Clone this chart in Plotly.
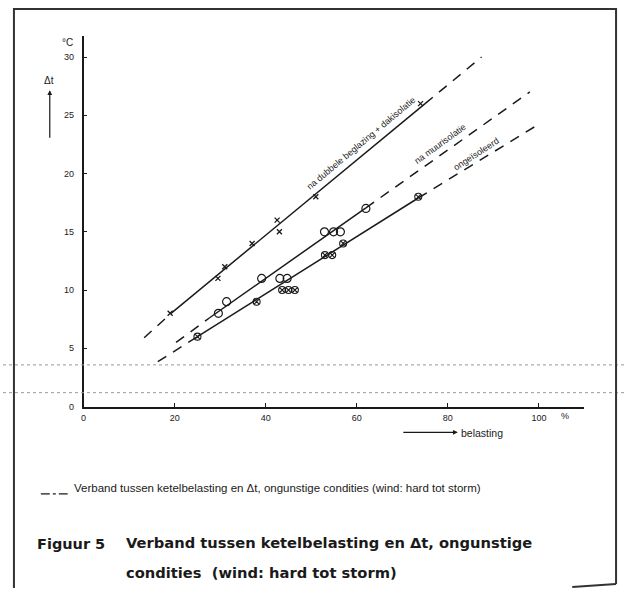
import plotly.graph_objects as go

# ---- data ----
x_ticks = [0, 20, 40, 60, 80, 100]
y_ticks = [0, 5, 10, 15, 20, 25, 30]

# na dubbele beglazing + dakisolatie (small crosses)
dak_x = [19, 29.5, 31, 37, 42.5, 43, 51, 74]
dak_y = [8, 11, 12, 14, 16, 15, 18, 26]
dak_solid_x = [19.2, 75.0]
dak_solid_y = [8.0, 26.0]
dak_dash_lo_x = [13.3, 19.2]
dak_dash_lo_y = [5.9, 8.0]
dak_dash_hi_x = [75.0, 87.4]
dak_dash_hi_y = [26.0, 30.0]

# na muurisolatie (open circles)
muur_x = [29.6, 31.4, 39.1, 43.1, 44.7, 52.9, 54.9, 56.4, 62]
muur_y = [8, 9, 11, 11, 11, 15, 15, 15, 17]
muur_solid_x = [27.6, 62.0]
muur_solid_y = [7.6, 17.05]
muur_dash_lo_x = [20.3, 27.6]
muur_dash_lo_y = [5.5, 7.6]
muur_dash_hi_x = [62.0, 98.0]
muur_dash_hi_y = [17.05, 27.0]

# ongeisoleerd (hatched circles)
onge_x = [25, 38, 43.6, 45, 46.4, 53, 54.6, 57, 73.5]
onge_y = [6, 9, 10, 10, 10, 13, 13, 14, 18]
onge_solid_x = [25.0, 73.5]
onge_solid_y = [6.0, 17.9]
onge_dash_lo_x = [16.3, 25.0]
onge_dash_lo_y = [3.85, 6.0]
onge_dash_hi_x = [73.5, 99.0]
onge_dash_hi_y = [17.9, 24.0]

INK = "#1a1a1a"
FONT = "Liberation Sans"
CAPFONT = "DejaVu Sans"
DASH = "10px,8px"

fig = go.Figure()

def seg(x, y, dash):
    fig.add_trace(go.Scatter(x=x, y=y, mode="lines",
                             line=dict(color=INK, width=1.5, dash=dash),
                             hoverinfo="skip", showlegend=False))

for sx, sy in [(dak_solid_x, dak_solid_y), (muur_solid_x, muur_solid_y), (onge_solid_x, onge_solid_y)]:
    seg(sx, sy, "solid")
for sx, sy in [(dak_dash_lo_x, dak_dash_lo_y), (dak_dash_hi_x, dak_dash_hi_y),
               (muur_dash_lo_x, muur_dash_lo_y), (muur_dash_hi_x, muur_dash_hi_y),
               (onge_dash_lo_x, onge_dash_lo_y), (onge_dash_hi_x, onge_dash_hi_y)]:
    seg(sx, sy, DASH)

fig.add_trace(go.Scatter(x=dak_x, y=dak_y, mode="markers",
                         marker=dict(symbol="x-thin-open", size=5, color=INK, line=dict(width=1.3, color=INK)),
                         showlegend=False))
fig.add_trace(go.Scatter(x=muur_x, y=muur_y, mode="markers",
                         marker=dict(symbol="circle-open", size=8, color=INK, line=dict(width=1.2, color=INK)),
                         showlegend=False))
fig.add_trace(go.Scatter(x=onge_x, y=onge_y, mode="markers",
                         marker=dict(symbol="circle-x-open", size=7, color=INK, line=dict(width=1.1, color=INK)),
                         showlegend=False))

# page geometry (body margin removed, small empirical offset)
W, H = 627, 593
XOFF, YOFF = -1, 3
x0_px, px_per_x = 82 + XOFF, 4.575
y0_px, px_per_y = 407 + YOFF, 11.75
x_max, y_max = 110, 31.8

def px(x):  # reference pixel -> paper fraction
    return (x + XOFF) / W

def py(y):
    return 1 - (y + YOFF) / H

fig.update_layout(
    width=W, height=H,
    margin=dict(l=0, r=0, t=0, b=0),
    paper_bgcolor="white", plot_bgcolor="white",
    font=dict(family=FONT, color=INK, size=10),
    xaxis=dict(domain=[x0_px / W, (x0_px + x_max * px_per_x) / W], range=[0, x_max],
               tickvals=x_ticks, ticks="inside", ticklen=4, tickcolor=INK,
               showline=True, linecolor=INK, linewidth=1.5, showgrid=False, zeroline=False,
               tickfont=dict(size=9, family=FONT), ticklabelstandoff=2, fixedrange=True),
    yaxis=dict(domain=[(H - y0_px) / H, (H - y0_px + y_max * px_per_y) / H], range=[0, y_max],
               tickvals=y_ticks, ticks="inside", ticklen=4, tickcolor=INK,
               showline=True, linecolor=INK, linewidth=1.5, showgrid=False, zeroline=False,
               tickfont=dict(size=9, family=FONT), ticklabelstandoff=6, fixedrange=True),
)

def ptext(x, y, text, size=10, anchor="left", bold=False, family=FONT):
    fig.add_annotation(x=px(x), y=py(y), xref="paper", yref="paper", text=("<b>%s</b>" % text) if bold else text,
                       showarrow=False, xanchor=anchor, yanchor="middle", borderpad=0,
                       font=dict(size=size, family=family, color=INK))

# in-chart labels along the lines
fig.add_annotation(x=61.0, y=22.6, text="na dubbele beglazing + dakisolatie", showarrow=False,
                   textangle=-40, font=dict(size=9, family=FONT, color=INK))
fig.add_annotation(x=78.3, y=22.5, text="na muurisolatie", showarrow=False,
                   textangle=-36, font=dict(size=9, family=FONT, color=INK))
fig.add_annotation(x=86.2, y=21.7, text="ongeïsoleerd", showarrow=False,
                   textangle=-33, font=dict(size=9, family=FONT, color=INK))

# unit labels
ptext(66, 40, "°C", size=10, anchor="center")
ptext(566, 417, "%", size=9, anchor="center")

# delta-t arrow (vertical, pointing up)
fig.add_annotation(x=px(48), y=py(88), ax=0, ay=49, xref="paper", yref="paper",
                   text="", showarrow=True, arrowhead=2, arrowsize=0.8,
                   arrowwidth=1.2, arrowcolor=INK)
ptext(47, 78, "Δt", size=10, anchor="center")

# belasting arrow
fig.add_annotation(x=px(458), y=py(433), ax=-56, ay=0, xref="paper", yref="paper",
                   text="", showarrow=True, arrowhead=2, arrowsize=0.8,
                   arrowwidth=1.2, arrowcolor=INK)
ptext(460, 434, "belasting", size=10.5)

# note with dash-dot sample
fig.add_shape(type="line", xref="paper", yref="paper", x0=px(39), x1=px(66), y0=py(495), y1=py(495),
              line=dict(color=INK, width=1.2, dash="dashdot"))
ptext(71, 489, "Verband tussen ketelbelasting en Δt, ongunstige condities (wind: hard tot storm)", size=11.5)

# caption
ptext(34, 546, "Figuur 5", size=14.5, bold=True, family=CAPFONT)
ptext(124, 544, "Verband tussen ketelbelasting en Δt, ongunstige", size=14.7, bold=True, family=CAPFONT)
ptext(124, 574, "condities  (wind: hard tot storm)", size=14.7, bold=True, family=CAPFONT)

# scan artefact dotted rows
for yy in [365, 393]:
    fig.add_shape(type="line", xref="paper", yref="paper", x0=0, x1=1, y0=py(yy), y1=py(yy),
                  line=dict(color="#9a9a9a", width=1, dash="dot"))

# page frame
fig.add_shape(type="path", xref="paper", yref="paper",
              path="M %f %f L %f %f L %f %f L %f %f" % (px(12), 0, px(12), py(6), px(617), py(6), px(617), py(586)),
              line=dict(color="#333333", width=2))
fig.add_shape(type="line", xref="paper", yref="paper", x0=px(573), x1=px(617), y0=py(589), y1=py(586),
              line=dict(color="#333333", width=2))

fig.write_html("out.html", config={"displayModeBar": False},
               post_script="document.body.style.margin='0';document.body.style.overflow='hidden';")
